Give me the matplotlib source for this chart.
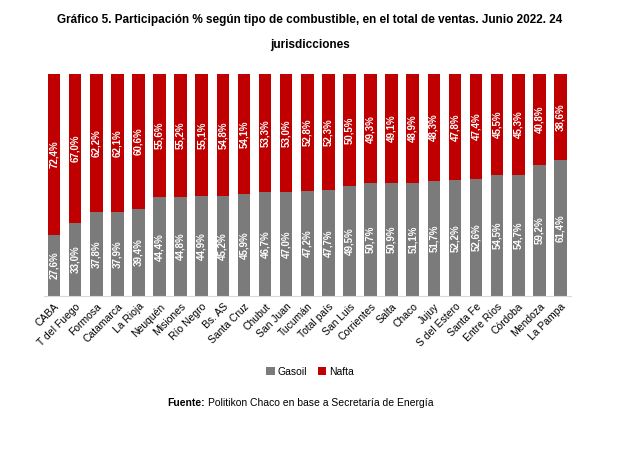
import matplotlib.pyplot as plt
import numpy as np

jurisdicciones = ["CABA", "T del Fuego", "Formosa", "Catamarca", "La Rioja", "Neuquén",
                  "Misiones", "Río Negro", "Bs. AS", "Santa Cruz", "Chubut", "San Juan",
                  "Tucumán", "Total país", "San Luis", "Corrientes", "Salta", "Chaco",
                  "Jujuy", "S del Estero", "Santa Fe", "Entre Ríos", "Córdoba", "Mendoza",
                  "La Pampa"]
gasoil = [27.6, 33.0, 37.8, 37.9, 39.4, 44.4, 44.8, 44.9, 45.2, 45.9, 46.7, 47.0,
          47.2, 47.7, 49.5, 50.7, 50.9, 51.1, 51.7, 52.2, 52.6, 54.5, 54.7, 59.2, 61.4]
nafta = [72.4, 67.0, 62.2, 62.1, 60.6, 55.6, 55.2, 55.1, 54.8, 54.1, 53.3, 53.0,
         52.8, 52.3, 50.5, 49.3, 49.1, 48.9, 48.3, 47.8, 47.4, 45.5, 45.3, 40.8, 38.6]

plt.rcParams['font.family'] = ['Liberation Sans', 'DejaVu Sans']

gray = '#7b7b7b'
red = '#c00000'

fig = plt.figure(figsize=(6.18, 4.57), dpi=100)
ax = fig.add_axes([0.0704, 0.3523, 0.8535, 0.4858])

x = np.arange(len(jurisdicciones))
g = np.array(gasoil)
n = np.array(nafta)
ax.bar(x, g, width=0.6, color=gray, label="Gasoil")
ax.bar(x, n, width=0.6, bottom=g, color=red, label="Nafta")

label_font = ['Liberation Sans Narrow', 'Liberation Sans', 'DejaVu Sans']
for i in range(len(x)):
    ax.text(x[i], g[i] / 2, f"{g[i]:.1f}%".replace(".", ","), rotation=90,
            ha='center', va='center', color='white', fontsize=7,
            fontweight='bold', family=label_font)
    ax.text(x[i], g[i] + n[i] / 2, f"{n[i]:.1f}%".replace(".", ","), rotation=90,
            ha='center', va='center', color='white', fontsize=7,
            fontweight='bold', family=label_font)

ax.set_xlim(-0.5, len(x) - 0.5)
ax.set_ylim(0, 100)
ax.set_xticks(x)
ax.set_xticklabels(jurisdicciones, rotation=45, ha='right', rotation_mode='anchor',
                   fontsize=7.5)
ax.tick_params(axis='x', length=0, pad=4)
ax.set_yticks([])
for s in ['top', 'right', 'left']:
    ax.spines[s].set_visible(False)
ax.spines['bottom'].set_color('#d9d9d9')

fig.legend(loc='center', bbox_to_anchor=(310 / 618, 1 - 372 / 457), ncol=2,
           frameon=False, fontsize=7.5, handlelength=0.8, handleheight=0.8,
           handletextpad=0.3, columnspacing=1.0)

fig.text(310 / 618, 1 - 20 / 457,
         "Gráfico 5. Participación % según tipo de combustible, en el total de ventas. Junio 2022. 24",
         ha='center', va='center', fontsize=8.5, fontweight='bold')
fig.text(310 / 618, 1 - 45 / 457, "jurisdicciones",
         ha='center', va='center', fontsize=8.5, fontweight='bold')

# source line: bold prefix, then plain text right after it
fuente = fig.text(167 / 618, 1 - 403 / 457, "Fuente:", ha='left', va='center',
                  fontsize=7.5, fontweight='bold')
renderer = fig.canvas.get_renderer()
bb = fuente.get_window_extent(renderer=renderer)
fig.text((bb.x1 + 3) / 618, 1 - 403 / 457, "Politikon Chaco en base a Secretaría de Energía",
         ha='left', va='center', fontsize=7.5)

fig.savefig("out.png", dpi=100)
